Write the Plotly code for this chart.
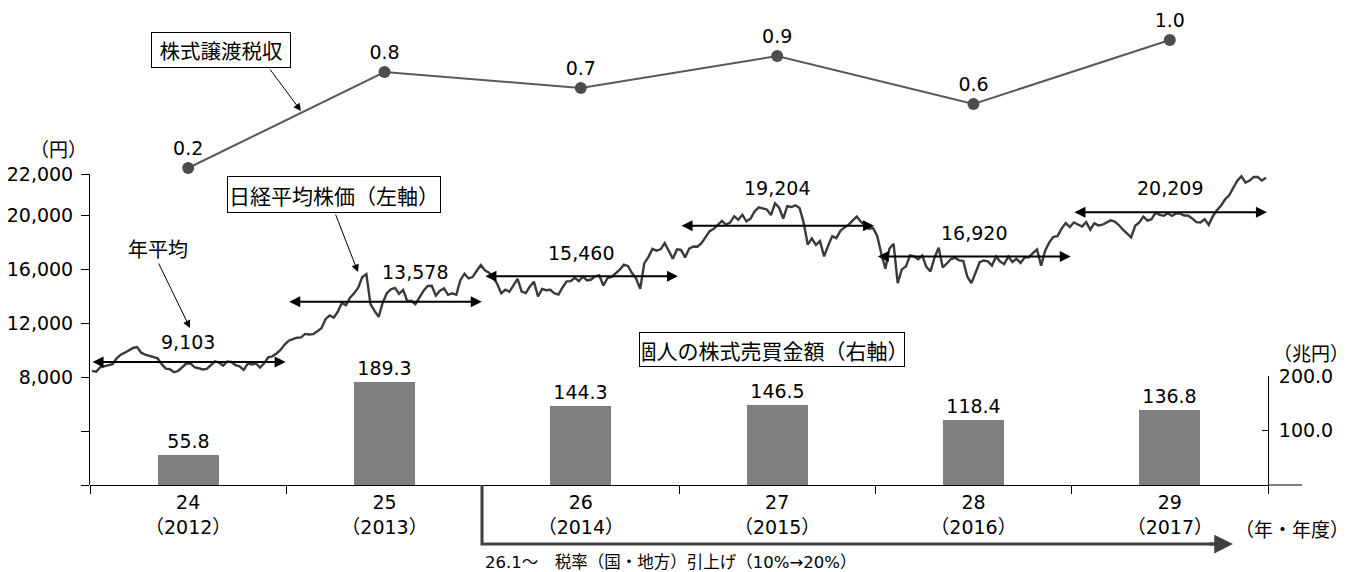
import plotly.graph_objects as go
import pandas as pd

# ---------------- data ----------------
years = ["24<br>（2012）", "25<br>（2013）", "26<br>（2014）",
         "27<br>（2015）", "28<br>（2016）", "29<br>（2017）"]
cal_years = [2012, 2013, 2014, 2015, 2016, 2017]
tax_revenue = [0.2, 0.8, 0.7, 0.9, 0.6, 1.0]            # 株式譲渡税収 (兆円)
individual_trading = [55.8, 189.3, 144.3, 146.5, 118.4, 136.8]  # 個人の株式売買金額 (兆円)
annual_avg = [9103, 13578, 15460, 19204, 16920, 20209]
annual_avg_labels = ["9,103", "13,578", "15,460", "19,204", "16,920", "20,209"]

# Nikkei average, ~4 readings per month
nikkei_2012 = [8450, 8400, 8720, 8800, 8850, 8950, 9380, 9650, 9800, 9950, 10150, 10220,
               9800, 9650, 9560, 9520, 9380, 8950, 8620, 8580, 8350, 8450, 8720, 9000,
               9020, 8720, 8650, 8560, 8600, 8890, 9160, 9070, 8840, 9150, 9110, 8870,
               8790, 8530, 9000, 8930, 9000, 8700, 9020, 9450, 9530, 9740, 10000, 10400]
nikkei_2013 = [10690, 10800, 10910, 10930, 11190, 11150, 11170, 11390, 11610, 12280, 12560, 12400,
               12830, 13490, 13320, 13880, 14200, 14610, 15400, 15620, 13400, 12900, 12450, 13500,
               14200, 14500, 14600, 14150, 14450, 13610, 13650, 13400, 13860, 14400, 14740, 14760,
               14020, 14400, 14560, 14090, 14200, 14090, 15170, 15650, 15300, 15400, 15870, 16300]
nikkei_2014 = [15910, 15730, 15390, 14910, 14200, 14460, 14310, 14840, 15270, 14330, 14220, 14700,
               15060, 13960, 14520, 14430, 14460, 14200, 14100, 14630, 15080, 15100, 15350, 15100,
               15440, 15160, 15220, 15460, 15520, 14780, 15320, 15420, 15670, 15950, 16320, 16230,
               15700, 15300, 14530, 16410, 16880, 17490, 17360, 17460, 17920, 17370, 16760, 17450]
nikkei_2015 = [17410, 16860, 17510, 17670, 17650, 17910, 18330, 18800, 18970, 19250, 19560, 19290,
               19440, 19910, 19650, 20020, 19530, 19730, 20260, 20560, 20460, 20410, 19990, 20870,
               20540, 19740, 20650, 20590, 20720, 20520, 19440, 17810, 18260, 17790, 18070, 16930,
               17730, 18440, 18290, 18830, 19080, 19270, 19600, 19880, 19500, 19230, 18990, 19030]
nikkei_2016 = [18450, 17150, 16020, 17520, 17870, 14950, 15970, 16190, 17010, 16940, 16720, 17000,
               16160, 15820, 16850, 17570, 16110, 16410, 16740, 16830, 16640, 16600, 15430, 14950,
               15680, 16500, 16630, 16570, 16250, 16920, 16550, 16360, 16930, 16520, 16750, 16450,
               16860, 16860, 17180, 17450, 16250, 17370, 17970, 18380, 18430, 18990, 19400, 19110]
nikkei_2017 = [19450, 19290, 19140, 19470, 18920, 19380, 19230, 19280, 19470, 19600, 19520, 19260,
               18910, 18660, 18340, 19200, 19450, 19880, 19590, 19690, 20170, 20010, 19940, 20130,
               19930, 20120, 20100, 19960, 19950, 19730, 19470, 19450, 19690, 19270, 19910, 20360,
               20690, 21160, 21460, 22010, 22540, 22870, 22400, 22550, 22820, 22810, 22550, 22760]
nikkei_by_year = [nikkei_2012, nikkei_2013, nikkei_2014, nikkei_2015, nikkei_2016, nikkei_2017]

left_tickvals = [0, 4000, 8000, 12000, 16000, 20000, 23037]
left_ticktext = ["", "", "8,000", "12,000", "16,000", "20,000", "22,000"]
right_tickvals = [100, 200]

# ---------------- layout helpers ----------------
ML, MR, MT, MB = 90, 84, 20, 87
W, H = 1352 - ML - MR, 572 - MT - MB
def px(x): return (x - ML) / W
def py(y): return (572 - MB - y) / H

FONT = "DejaVu Sans, Noto Sans CJK JP"
CJK = "Noto Sans CJK JP"

# sample dates within each year
nk_x, nk_y = [], []
for yr, vals in zip(cal_years, nikkei_by_year):
    start = pd.Timestamp(f"{yr}-01-01")
    span = pd.Timestamp(f"{yr + 1}-01-01") - start
    n = len(vals)
    for k, v in enumerate(vals):
        nk_x.append(start + span * ((k + 0.5) / n))
        nk_y.append(v)

fig = go.Figure()
fig.add_trace(go.Bar(
    x=years, y=individual_trading, xaxis="x", yaxis="y2",
    marker=dict(color="#7f7f7f", line=dict(width=0)), width=0.31,
    text=[f"{v:.1f}" for v in individual_trading], textposition="outside",
    textfont=dict(size=19, color="black", family=FONT), cliponaxis=False,
    constraintext="none", showlegend=False))
fig.add_trace(go.Scatter(
    x=nk_x, y=nk_y, xaxis="x2", yaxis="y", mode="lines",
    line=dict(color="#3a3a3a", width=2.4), showlegend=False))
fig.add_trace(go.Scatter(
    x=years, y=tax_revenue, xaxis="x", yaxis="y3", mode="lines+markers+text",
    text=[f"{v:.1f}" for v in tax_revenue], textposition="top center",
    textfont=dict(size=19, color="black", family=FONT),
    line=dict(color="#595959", width=2), marker=dict(size=12, color="#4d4d4d"),
    cliponaxis=False, showlegend=False))

ann = []
label_dy = [20, 30, 23, 38, 24, 24]
label_dx = [0, 30, 0, 0, 0, 0]
for yr, v, lab, dy, dx in zip(cal_years, annual_avg, annual_avg_labels, label_dy, label_dx):
    ann.append(dict(xref="x2", yref="y", x=f"{yr}-12-30", y=v, axref="x2", ayref="y",
                    ax=f"{yr}-01-03", ay=v, text="", showarrow=True, arrowhead=2,
                    arrowside="end+start", arrowsize=1.1, arrowwidth=2, arrowcolor="black"))
    ann.append(dict(xref="x2", yref="y", x=f"{yr}-07-02", y=v, text=lab, showarrow=False,
                    xanchor="center", yanchor="middle",
                    yshift=dy, xshift=dx, font=dict(size=19, family=FONT, color="black")))

def label(cx, cy, text, size, family=CJK, **kw):
    d = dict(xref="paper", yref="paper", x=px(cx), y=py(cy), text=text, showarrow=False,
             xanchor="center", yanchor="middle",
             font=dict(size=size, family=family, color="black"))
    d.update(kw)
    return d

def box(cx, cy, text, tw, th, size):
    return label(cx, cy, text, size, bordercolor="black", borderwidth=1, borderpad=2,
                 bgcolor="white", width=tw - 6, height=th - 6)

def pointer(tx, ty, ax, ay):
    return dict(xref="paper", yref="paper", x=px(tx), y=py(ty), ax=ax, ay=ay, text="",
                showarrow=True, arrowhead=2, arrowsize=1.5, arrowwidth=1, arrowcolor="black")

ann += [
    box(221, 50, "株式譲渡税収", 140, 36, 20.5),
    pointer(301, 111, -32, -43),
    box(334, 194.5, "日経平均株価（左軸）", 214, 37, 21),
    pointer(358, 272, -23, -59),
    box(772, 349.5, "個人の株式売買金額（右軸）", 266, 35, 21),
    label(158, 248, "年平均", 20),
    pointer(190, 328, -32, -66),
    label(58, 148, "（円）", 19),
    label(1311, 352, "（兆円）", 19),
    label(1292, 528, "（年・年度）", 19),
    dict(xref="paper", yref="paper", x=px(1233), y=py(544), ax=-25, ay=0, text="",
         showarrow=True, arrowhead=2, arrowsize=1.25, arrowwidth=3, arrowcolor="#404040"),
    label(483, 562, "26.1～　税率（国・地方）引上げ（10%→20%）", 16.5, family=FONT,
          xanchor="left"),
]

shapes = [
    dict(type="path", xref="paper", yref="paper",
         path=f"M{px(482)},0 L{px(482)},{py(544)} L{px(1220)},{py(544)}",
         line=dict(color="#404040", width=3)),
    dict(type="line", xref="paper", yref="paper", x0=1, x1=px(1302), y0=0, y1=0,
         line=dict(color="black", width=1)),
]

fig.update_layout(
    width=1352, height=572, autosize=False,
    margin=dict(l=ML, r=MR, t=MT, b=MB, pad=0, autoexpand=False),
    paper_bgcolor="white", plot_bgcolor="rgba(0,0,0,0)",
    font=dict(family=FONT, size=19, color="black"),
    showlegend=False, bargap=0,
    xaxis=dict(type="category", domain=[0, 1], anchor="y", categoryorder="array",
               categoryarray=years, showline=True, linecolor="black", linewidth=1,
               ticks="outside", tickson="boundaries", ticklen=8, tickcolor="black",
               showgrid=False, zeroline=False, automargin=False,
               tickfont=dict(size=19, family=FONT)),
    xaxis2=dict(type="date", overlaying="x", anchor="y", visible=False, automargin=False,
                range=["2012-01-01", "2018-01-01"]),
    yaxis=dict(domain=[0, py(174)], range=[0, 23037], anchor="x",
               tickvals=left_tickvals, ticktext=left_ticktext,
               showline=True, linecolor="black", linewidth=1, ticks="outside",
               ticklen=8, tickcolor="black", showgrid=False, zeroline=False,
               automargin=False, ticklabelstandoff=4, tickfont=dict(size=19, family=FONT)),
    yaxis2=dict(domain=[0, py(376)], range=[0, 200], anchor="x", side="right",
                tickvals=right_tickvals, tickformat=".1f",
                showline=True, linecolor="black", linewidth=1, ticks="inside",
                ticklen=6, tickcolor="black", showgrid=False, zeroline=False,
                automargin=False, ticklabelstandoff=6, tickfont=dict(size=19, family=FONT)),
    yaxis3=dict(domain=[0, 1], range=[-1.78125, 1.125], anchor="x", visible=False,
                automargin=False),
    annotations=ann, shapes=shapes,
)

fig.write_html("out.html")
